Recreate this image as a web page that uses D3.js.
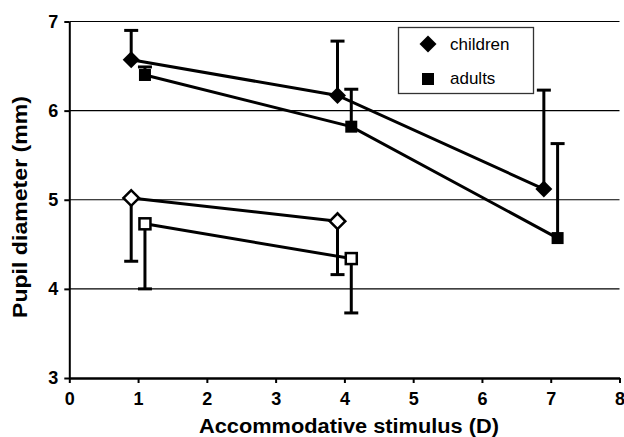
<!DOCTYPE html>
<html>
<head>
<meta charset="utf-8">
<script src="https://cdn.jsdelivr.net/npm/d3@7"></script>
<style>
  body { margin: 0; background: #fff; }
  svg { display: block; font-family: "Liberation Sans", Arial, sans-serif; }
  .axis text { font-size: 18px; font-weight: bold; fill: #000; }
</style>
</head>
<body>
<div id="chart"></div>
<script>
// valores
const xChildren = [0.9, 3.9, 6.9];
const xAdults = [1.1, 4.1, 7.1];
const childrenFilled = [6.57, 6.17, 5.12];
const childrenFilledErr = [0.33, 0.61, 1.11];
const adultsFilled = [6.40, 5.82, 4.57];
const adultsFilledErr = [0.09, 0.42, 1.06];
const childrenOpen = [5.02, 4.76];
const childrenOpenErr = [0.71, 0.60];
const adultsOpen = [4.73, 4.34];
const adultsOpenErr = [0.73, 0.61];
const xTicks = [0, 1, 2, 3, 4, 5, 6, 7, 8];
const yTicks = [3, 4, 5, 6, 7];
const legendLabels = ["children", "adults"];

const width = 624, height = 437;
const svg = d3.select("#chart").append("svg")
  .attr("width", width).attr("height", height);

const x = d3.scaleLinear().domain([0, 8]).range([69.3, 619.5]);
const y = d3.scaleLinear().domain([3, 7]).range([378, 21.5]);

// linhas de grade
svg.append("g").selectAll("line")
  .data(yTicks.filter((d) => d > 3))
  .enter().append("line")
  .attr("x1", x(0)).attr("x2", x(8))
  .attr("y1", (d) => y(d)).attr("y2", (d) => y(d))
  .attr("stroke", "#000").attr("stroke-width", 1.2);

// eixos
const yAxis = svg.append("g")
  .attr("class", "axis")
  .attr("transform", `translate(${x(0)},0)`)
  .call(d3.axisLeft(y).tickValues(yTicks).tickSize(5).tickSizeOuter(0).tickPadding(6).tickFormat(d3.format("d")));
const xAxis = svg.append("g")
  .attr("class", "axis")
  .attr("transform", `translate(0,${y(3)})`)
  .call(d3.axisBottom(x).tickValues(xTicks).tickSize(5).tickSizeOuter(0).tickPadding(9).tickFormat(d3.format("d")));

yAxis.attr("font-size", 18);
xAxis.attr("font-size", 18);
yAxis.select(".domain").attr("stroke-width", 2);
xAxis.select(".domain").attr("stroke-width", 2.5);
[yAxis, xAxis].forEach((a) => {
  a.selectAll(".tick line").attr("stroke-width", 2);
  a.selectAll("text").attr("font-size", 18).attr("font-weight", "bold");
});

// títulos dos eixos
svg.append("text")
  .attr("x", 349).attr("y", 433)
  .attr("text-anchor", "middle")
  .attr("textLength", 300).attr("lengthAdjust", "spacingAndGlyphs")
  .style("font-size", "19.5px").style("font-weight", "bold")
  .text("Accommodative stimulus (D)");

svg.append("text")
  .attr("transform", "translate(27,207) rotate(-90)")
  .attr("text-anchor", "middle")
  .attr("textLength", 222).attr("lengthAdjust", "spacingAndGlyphs")
  .style("font-size", "19.5px").style("font-weight", "bold")
  .text("Pupil diameter (mm)");

const line = d3.line().x((d) => x(d[0])).y((d) => y(d[1]));

const series = [
  { xs: xChildren, ys: childrenFilled, err: childrenFilledErr, dir: 1, shape: "diamond", open: false },
  { xs: xAdults, ys: adultsFilled, err: adultsFilledErr, dir: 1, shape: "square", open: false },
  { xs: xChildren, ys: childrenOpen, err: childrenOpenErr, dir: -1, shape: "diamond", open: true },
  { xs: xAdults, ys: adultsOpen, err: adultsOpenErr, dir: -1, shape: "square", open: true }
];

function marker(g, shape, open) {
  const s = open ? 11 : 12;
  const r = g.append("rect")
    .attr("x", -s / 2).attr("y", -s / 2).attr("width", s).attr("height", s)
    .attr("fill", open ? "#fff" : "#000")
    .attr("stroke", "#000").attr("stroke-width", open ? 2.5 : 0);
  if (shape === "diamond") r.attr("transform", "rotate(45)");
}

series.forEach((s) => {
  const pts = s.ys.map((v, i) => [s.xs[i], v, s.err[i]]);
  // barras de erro (só um lado)
  const eb = svg.append("g");
  pts.forEach((p) => {
    const yEnd = y(p[1] + s.dir * p[2]);
    eb.append("line")
      .attr("x1", x(p[0])).attr("x2", x(p[0]))
      .attr("y1", y(p[1])).attr("y2", yEnd)
      .attr("stroke", "#000").attr("stroke-width", 3);
    eb.append("line")
      .attr("x1", x(p[0]) - 7).attr("x2", x(p[0]) + 7)
      .attr("y1", yEnd).attr("y2", yEnd)
      .attr("stroke", "#000").attr("stroke-width", 3);
  });
  svg.append("path")
    .datum(pts)
    .attr("d", line)
    .attr("fill", "none")
    .attr("stroke", "#000").attr("stroke-width", 3);
  pts.forEach((p) => {
    const g = svg.append("g").attr("transform", `translate(${x(p[0])},${y(p[1])})`);
    marker(g, s.shape, s.open);
  });
});

// legenda
const legend = svg.append("g");
legend.append("rect")
  .attr("x", 398.5).attr("y", 27.5).attr("width", 135).attr("height", 66)
  .attr("fill", "#fff").attr("stroke", "#333").attr("stroke-width", 1.3);
legendLabels.forEach((label, i) => {
  const g = legend.append("g").attr("transform", `translate(428,${44 + i * 35})`);
  marker(g, i === 0 ? "diamond" : "square", false);
  legend.append("text")
    .attr("x", 450).attr("y", 50 + i * 34)
    .style("font-size", "17px")
    .text(label);
});
</script>
</body>
</html>
